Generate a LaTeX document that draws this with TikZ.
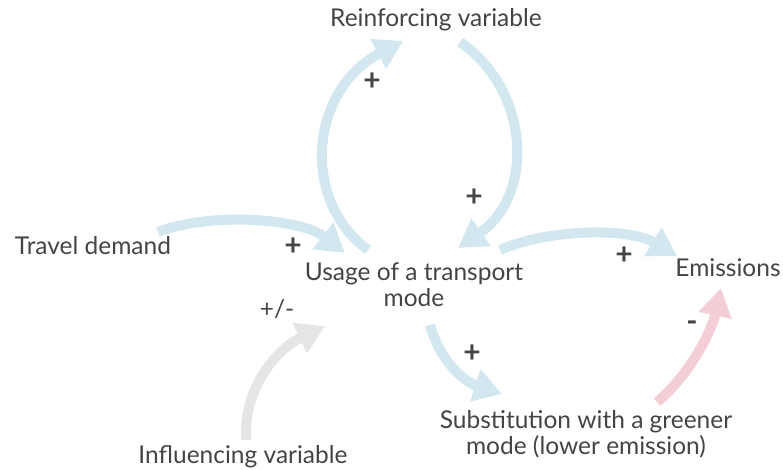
\documentclass[tikz,border=0pt]{standalone}
\usepackage{fontspec}
\setmainfont{Lato}
\usetikzlibrary{arrows.meta}
\definecolor{loopblue}{HTML}{D2E7F0}
\definecolor{negpink}{HTML}{F3CED4}
\definecolor{extgray}{HTML}{E5E5E5}
\definecolor{txtgray}{HTML}{444444}

\tikzset{
  var/.style={text=txtgray, font=\fontsize{24.5}{26}\selectfont, align=center, inner sep=0pt},
  sign/.style={text=txtgray, font=\fontsize{30}{30}\selectfont\bfseries, inner sep=0pt},
  link/.style={line width=10pt, line cap=butt, -{Triangle[length=28pt,width=32pt]}},
}

\begin{document}
\begin{tikzpicture}[x=1pt, y=-1pt]
\useasboundingbox (0,0) rectangle (783,470);

% variables
\node[var] (reinf) at (436,20) {Reinforcing variable};
\node[var] (demand) at (93,246) {Travel demand};
\node[var] (usage) at (414,285) {Usage of a transport\\mode};
\node[var] (emis) at (728,268) {Emissions};
\node[var] (subst) at (586,434) {Substitution with a greener\\mode (lower emission)};
\node[var] (infl) at (243,457) {Influencing variable};

% link ends
\coordinate (usage-l) at (368,250);
\coordinate (reinf-l) at (403,41);
\coordinate (reinf-r) at (460,42);
\coordinate (usage-t) at (458,248);
\coordinate (demand-r) at (158,232);
\coordinate (usage-w) at (345,253);
\coordinate (usage-r) at (500,250);
\coordinate (emis-l) at (677,256);
\coordinate (usage-b) at (430,325);
\coordinate (subst-t) at (502,394);
\coordinate (subst-r) at (657,402);
\coordinate (emis-b) at (721,288);
\coordinate (infl-t) at (246,440);
\coordinate (usage-s) at (325,326);

% links
\draw[link, loopblue] (usage-l) .. controls (300,200) and (310,90) .. (reinf-l);
\draw[link, loopblue] (reinf-r) .. controls (530,90) and (535,195) .. (usage-t);
\draw[link, loopblue] (demand-r) .. controls (210,212) and (300,218) .. (usage-w);
\draw[link, loopblue] (usage-r) .. controls (550,228) and (630,228) .. (emis-l);
\draw[link, loopblue] (usage-b) .. controls (440,362) and (465,382) .. (subst-t);
\draw[link, negpink] (subst-r) .. controls (690,375) and (712,330) .. (emis-b);
\draw[link, extgray] (infl-t) .. controls (243,390) and (275,350) .. (usage-s);

% polarities
\node[sign] (s1) at (372,82) {+};
\node[sign] (s2) at (474,198) {+};
\node[sign] (s3) at (293,247) {+};
\node[sign] (s4) at (624,256) {+};
\node[sign] (s5) at (472,354) {+};
\node[sign] (s6) at (692,326) {-};
\node[var] (s7) at (277,309) {+/-};

\end{tikzpicture}
\end{document}
